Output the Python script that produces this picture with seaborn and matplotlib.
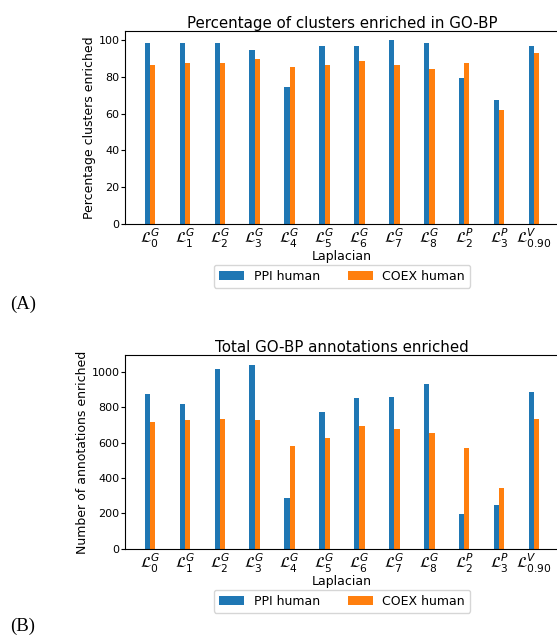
import seaborn as sns
import pandas as pd
import matplotlib.pyplot as plt
import numpy as np

laplacians = [r'$\mathcal{L}^G_0$', r'$\mathcal{L}^G_1$', r'$\mathcal{L}^G_2$',
              r'$\mathcal{L}^G_3$', r'$\mathcal{L}^G_4$', r'$\mathcal{L}^G_5$',
              r'$\mathcal{L}^G_6$', r'$\mathcal{L}^G_7$', r'$\mathcal{L}^G_8$',
              r'$\mathcal{L}^P_2$', r'$\mathcal{L}^P_3$', r'$\mathcal{L}^V_{0.90}$']
networks = ["PPI human", "COEX human"]

# percentage of clusters enriched in GO-BP
pct_ppi = [98.7, 98.7, 98.7, 94.4, 74.7, 97.1, 97.1, 100.0, 98.7, 79.6, 67.6, 97.1]
pct_coex = [86.5, 87.8, 87.8, 90.0, 85.6, 86.5, 88.9, 86.5, 84.5, 87.8, 62.2, 93.3]

# total GO-BP annotations enriched
n_ppi = [878, 821, 1019, 1043, 285, 776, 855, 861, 934, 194, 245, 885]
n_coex = [720, 727, 737, 727, 584, 629, 697, 680, 657, 573, 341, 737]

colors = ["#1f77b4", "#ff7f0e"]


def long_table(a, b):
    return pd.DataFrame({
        "Laplacian": laplacians * 2,
        "network": [networks[0]] * len(a) + [networks[1]] * len(b),
        "value": list(a) + list(b),
    })


W, H = 557, 637
fig = plt.figure(figsize=(W / 100, H / 100), dpi=100)

ax1 = fig.add_axes([125 / W, (H - 224) / H, 434 / W, 193 / H])
ax2 = fig.add_axes([125 / W, (H - 548.7) / H, 434 / W, 193.4 / H])

panels = [
    (ax1, long_table(pct_ppi, pct_coex), "Percentage of clusters enriched in GO-BP",
     "Percentage clusters enriched"),
    (ax2, long_table(n_ppi, n_coex), "Total GO-BP annotations enriched",
     "Number of annotations enriched"),
]

for ax, df, title, ylab in panels:
    sns.barplot(data=df, x="Laplacian", y="value", hue="network", order=laplacians,
                hue_order=networks, palette=colors, width=0.3, saturation=1,
                errorbar=None, ax=ax)
    ax.set_xlim(-0.715, 11.715)
    ax.set_title(title, fontsize=10.8, pad=2)
    ax.set_xlabel("Laplacian", fontsize=9, labelpad=0)
    ax.set_ylabel(ylab, fontsize=9, labelpad=2)
    ax.tick_params(axis="y", labelsize=8, length=3, pad=1)
    ax.tick_params(axis="x", labelsize=11, length=0, pad=2)
    ax.get_legend().remove()
    ax.legend(loc="upper center", bbox_to_anchor=(0.5, -0.18), ncol=2,
              fontsize=9, columnspacing=2.2)

fig.text(10 / W, 1 - 309 / H, "(A)", fontsize=13.5, family="Liberation Serif")
fig.text(10 / W, 1 - 631 / H, "(B)", fontsize=13.5, family="Liberation Serif")

fig.savefig("out.png", dpi=100)
